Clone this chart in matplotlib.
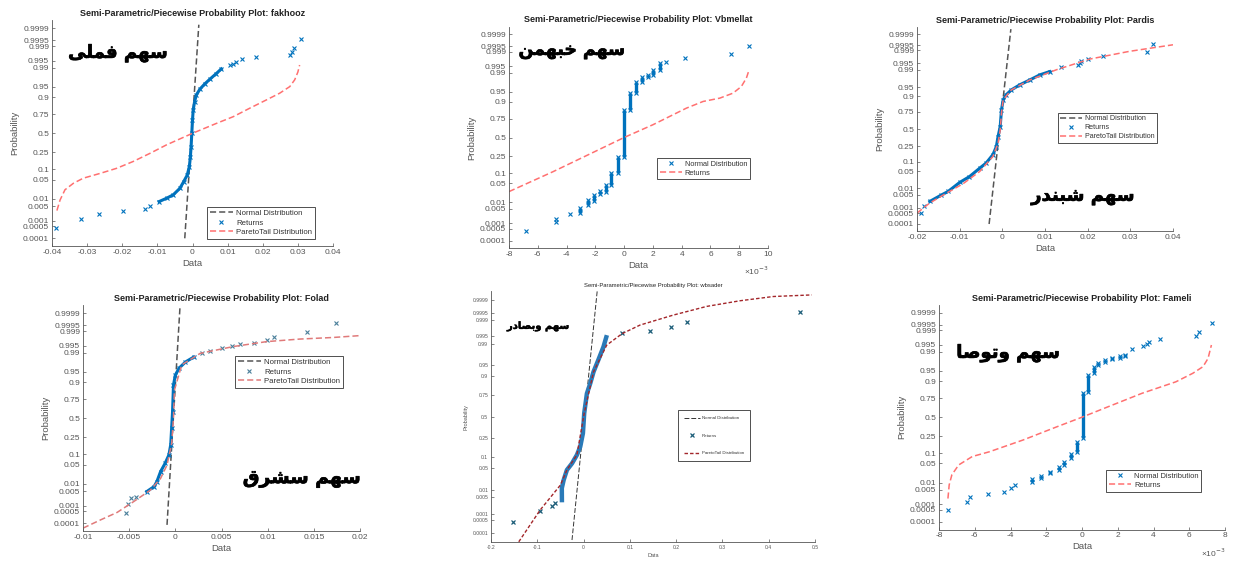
import numpy as np
import matplotlib
matplotlib.use('Agg')
import matplotlib.pyplot as plt
import matplotlib.patheffects as pe
from matplotlib.ticker import FuncFormatter

W, H = 1233, 562
plt.rcParams['font.family'] = ['Liberation Sans', 'DejaVu Sans']
plt.rcParams['axes.unicode_minus'] = False

BLUE = '#0072BD'
RED = '#FF7070'
GRAY = '#555555'

prob_ticks = [0.0001, 0.0005, 0.001, 0.005, 0.01, 0.05, 0.1, 0.25, 0.5,
              0.75, 0.9, 0.95, 0.99, 0.995, 0.999, 0.9995, 0.9999]
prob_labels = ['0.0001', '0.0005', '0.001', '0.005', '0.01', '0.05', '0.1', '0.25', '0.5',
               '0.75', '0.9', '0.95', '0.99', '0.995', '0.999', '0.9995', '0.9999']

# ---- fakhooz ----
fak_tail_x = [-0.0388, -0.0317, -0.0266, -0.0199, -0.0135, -0.0121,
              0.0106, 0.0116, 0.0125, 0.0142, 0.0180, 0.0279, 0.0284, 0.0289, 0.0308]
fak_tail_p = [0.00042, 0.0012, 0.0021, 0.0031, 0.0037, 0.0052,
              0.9922, 0.9931, 0.9945, 0.9956, 0.9964, 0.9972, 0.9981, 0.9988, 0.9996]
fak_body_x = [-0.0095, -0.0074, -0.0055, -0.0036, -0.0025, -0.0015, -0.0009, -0.0006, -0.0004,
              -0.0002, 0.0, 0.0002, 0.0006, 0.0011, 0.0021, 0.0035, 0.0049, 0.0066, 0.0082]
fak_body_p = [0.0078, 0.0107, 0.0146, 0.0256, 0.0436, 0.0694, 0.119, 0.203, 0.319,
              0.5, 0.681, 0.797, 0.869, 0.913, 0.941, 0.960, 0.972, 0.982, 0.9887]
fak_norm_x = [-0.0022, 0.0018]
fak_norm_p = [0.0001, 0.99994]
fak_par_x = [-0.0386, -0.0377, -0.0363, -0.0339, -0.0311, -0.0263, -0.0216, -0.0169, -0.0121,
             -0.0074, 0.0, 0.0068, 0.0116, 0.0163, 0.0210, 0.0248, 0.0277, 0.0291, 0.0300, 0.0305]
fak_par_p = [0.0031, 0.0091, 0.0228, 0.0384, 0.0559, 0.0778, 0.1075, 0.159, 0.239,
             0.341, 0.5, 0.637, 0.722, 0.813, 0.881, 0.922, 0.951, 0.971, 0.985, 0.9922]

# ---- Vbmellat ----
mel_tail_x = [-0.00679, -0.00470, -0.00470, -0.00378, 0.00293, 0.0042, 0.0074, 0.00867]
mel_tail_p = [0.0004, 0.0011, 0.0017, 0.0029, 0.9969, 0.9978, 0.99874, 0.99953]
mel_step_x = [-0.0031, -0.0025, -0.0021, -0.0017, -0.00124, -0.00089, -0.00042, 0.0,
              0.00044, 0.00086, 0.00127, 0.00166, 0.0020, 0.00247]
mel_step_lo = [0.0032, 0.0075, 0.0107, 0.0212, 0.0256, 0.0446, 0.0985, 0.245,
               0.841, 0.945, 0.978, 0.985, 0.988, 0.9927]
mel_step_hi = [0.0054, 0.0122, 0.0192, 0.028, 0.0446, 0.0985, 0.245, 0.841,
               0.945, 0.978, 0.986, 0.988, 0.9927, 0.9963]
mel_line_x = [-0.008, -0.00494, 0.0, 0.0020, 0.00433, 0.00549, 0.00665, 0.00757, 0.00815, 0.0085, 0.00869]
mel_line_p = [0.0256, 0.109, 0.5, 0.677, 0.855, 0.903, 0.922, 0.945, 0.967, 0.984, 0.9927]

# ---- Pardis ----
par_tail_x = [-0.0191, -0.0184, 0.0138, 0.0177, 0.0181, 0.0185, 0.0201, 0.0236, 0.0340, 0.0352]
par_tail_p = [0.0005, 0.00135, 0.9922, 0.9941, 0.9953, 0.9963, 0.997, 0.998, 0.99878, 0.99957]
par_body_x = [-0.0170, -0.0143, -0.0127, -0.0100, -0.0077, -0.0053, -0.0038, -0.0022, -0.0014,
              -0.0010, -0.0005, -0.0002, 0.0002, 0.0009, 0.0021, 0.0041, 0.0064, 0.0088, 0.0111]
par_body_p = [0.0023, 0.0049, 0.0073, 0.0183, 0.0314, 0.063, 0.0918, 0.159, 0.248,
              0.386, 0.540, 0.776, 0.875, 0.911, 0.938, 0.959, 0.973, 0.9834, 0.988]
par_norm_x = [-0.0031, 0.0020]
par_norm_p = [0.0001, 0.999956]
par_par_x = [-0.020, -0.017, -0.0131, -0.0092, -0.0053, -0.0022, -0.0010, -0.0005, -0.0002,
             0.0002, 0.0021, 0.0064, 0.0127, 0.0205, 0.0298, 0.040]
par_par_p = [0.0005, 0.0019, 0.006, 0.0162, 0.0485, 0.142, 0.291, 0.488, 0.736,
             0.875, 0.938, 0.973, 0.9901, 0.997, 0.99886, 0.99953]

# ---- Folad ----
fol_tail_x = [-0.0053, -0.0051, -0.0048, -0.0043, 0.0029, 0.0038, 0.0050, 0.0061, 0.0070,
              0.0085, 0.0099, 0.0107, 0.0143, 0.0174]
fol_tail_p = [0.00042, 0.00114, 0.0023, 0.0028, 0.9893, 0.9918, 0.9938, 0.9948, 0.9956,
              0.9963, 0.9972, 0.9981, 0.99893, 0.99961]
fol_body_x = [-0.0031, -0.0023, -0.0020, -0.0016, -0.0011, -0.0007, -0.0005, -0.0004, -0.0003,
              -0.0002, 0.0, 0.0004, 0.0011, 0.0020]
fol_body_p = [0.0047, 0.0078, 0.0125, 0.0294, 0.0559, 0.0968, 0.174, 0.363, 0.595,
              0.881, 0.937, 0.962, 0.977, 0.985]
fol_norm_x = [-0.0009, 0.0005]
fol_norm_p = [0.00008, 0.999956]
fol_par_x = [-0.010, -0.0081, -0.0063, -0.0045, -0.0027, -0.0016, -0.0009, -0.0004, -0.0002,
             -0.0001, 0.0007, 0.0027, 0.0063, 0.0099, 0.0135, 0.0171, 0.020]
fol_par_p = [0.00005, 0.00016, 0.00043, 0.0016, 0.0055, 0.0166, 0.049, 0.184, 0.5,
             0.841, 0.971, 0.9893, 0.9945, 0.9967, 0.9975, 0.9979, 0.9983]

# ---- wbsader ----
sad_tail_x = [-0.1525, -0.095, -0.068, -0.061, 0.083, 0.144, 0.188, 0.223, 0.468]
sad_tail_p = [0.0004, 0.0013, 0.0021, 0.0029, 0.9961, 0.9969, 0.9979, 0.99874, 0.99958]
sad_body_x = [-0.0468, -0.047, -0.043, -0.036, -0.025, -0.0144, -0.0072, -0.0014, 0.0014,
              0.0072, 0.0144, 0.0216, 0.032, 0.043, 0.049]
sad_body_p = [0.0039, 0.0113, 0.0217, 0.0446, 0.068, 0.111, 0.169, 0.298, 0.544,
              0.770, 0.855, 0.924, 0.965, 0.987, 0.9943]
sad_norm_x = [-0.025, 0.030]
sad_norm_p = [0.000042, 0.999978]
sad_par_x = [-0.140, -0.094, -0.050, -0.036, -0.0144, 0.0014, 0.0216, 0.050, 0.083, 0.122,
             0.194, 0.266, 0.338, 0.410, 0.493]
sad_par_p = [0.000033, 0.00144, 0.0146, 0.0446, 0.111, 0.544, 0.924, 0.9887, 0.9959, 0.99825,
             0.9994, 0.99978, 0.99989, 0.999936, 0.999948]

# ---- Fameli ----
fam_tail_x = [-0.00747, -0.00646, -0.00627, -0.00528, -0.00434, -0.00396, -0.00377,
              0.00278, 0.00344, 0.00363, 0.00376, 0.00439, 0.00638, 0.00653, 0.00729]
fam_tail_p = [0.00045, 0.0013, 0.0023, 0.0032, 0.0039, 0.0057, 0.008,
              0.9927, 0.9943, 0.9956, 0.9964, 0.9972, 0.9981, 0.9988, 0.99958]
fam_step_x = [-0.0028, -0.0023, -0.00177, -0.0013, -0.00098, -0.00064, -0.0003, 0.00005,
              0.00035, 0.00065, 0.00092, 0.00126, 0.0017, 0.0021, 0.0024]
fam_step_lo = [0.011, 0.0146, 0.0228, 0.030, 0.0446, 0.072, 0.109, 0.227,
               0.819, 0.941, 0.969, 0.976, 0.981, 0.983, 0.985]
fam_step_hi = [0.0139, 0.0188, 0.0262, 0.039, 0.057, 0.093, 0.192, 0.802,
               0.933, 0.964, 0.974, 0.979, 0.983, 0.985, 0.9864]
fam_line_x = [-0.0075, -0.00743, -0.00728, -0.0069, -0.00614, -0.00519, -0.00329, -0.0014, 0.0,
              0.00145, 0.00335, 0.00525, 0.0062, 0.00677, 0.00705, 0.00724]
fam_line_p = [0.0019, 0.008, 0.0202, 0.0446, 0.0808, 0.109, 0.209, 0.367, 0.5,
              0.644, 0.802, 0.896, 0.941, 0.964, 0.9817, 0.9949]


def ppf(p):
    # inverse standard normal cdf (Acklam)
    p = np.atleast_1d(np.asarray(p, dtype=float))
    a = [-3.969683028665376e+01, 2.209460984245205e+02, -2.759285104469687e+02,
         1.383577518672690e+02, -3.066479806614716e+01, 2.506628277459239e+00]
    b = [-5.447609879822406e+01, 1.615858368580409e+02, -1.556989798598866e+02,
         6.680131188771972e+01, -1.328068155288572e+01]
    c = [-7.784894002430293e-03, -3.223964580411365e-01, -2.400758277161838e+00,
         -2.549671010050161e+00, 4.374664141464968e+00, 2.938163982698783e+00]
    d = [7.784695709041462e-03, 3.224671290700398e-01, 2.445134137142996e+00,
         3.754408661907416e+00]
    z = np.empty_like(p)
    lo = p < 0.02425
    hi = p > 1 - 0.02425
    mid = ~(lo | hi)
    q = np.sqrt(-2 * np.log(p[lo]))
    z[lo] = (((((c[0]*q+c[1])*q+c[2])*q+c[3])*q+c[4])*q+c[5]) / ((((d[0]*q+d[1])*q+d[2])*q+d[3])*q+1)
    q = p[mid] - 0.5
    r = q * q
    z[mid] = (((((a[0]*r+a[1])*r+a[2])*r+a[3])*r+a[4])*r+a[5])*q / (((((b[0]*r+b[1])*r+b[2])*r+b[3])*r+b[4])*r+1)
    q = np.sqrt(-2 * np.log(1 - p[hi]))
    z[hi] = -(((((c[0]*q+c[1])*q+c[2])*q+c[3])*q+c[4])*q+c[5]) / ((((d[0]*q+d[1])*q+d[2])*q+d[3])*q+1)
    return z


fig = plt.figure(figsize=(W / 100, H / 100), dpi=100)
ZLIM = 4.0


def make_panel(left, right, y_hi, y_lo, xlim, xticks, title, scale=1.0, small=False):
    zt = ppf(0.9999)[0]
    k = (y_lo - y_hi) / (2 * zt)
    top = y_hi - (ZLIM - zt) * k
    bot = y_lo + (ZLIM - zt) * k
    ax = fig.add_axes([left / W, 1 - bot / H, (right - left) / W, (bot - top) / H])
    fs_tick = 3.6 if small else 6.0
    fs_lab = 4.0 if small else 6.8
    fs_title = 4.2 if small else 6.5
    ax.set_xlim(xlim)
    ax.set_ylim(-ZLIM, ZLIM)
    ax.set_xticks(xticks)
    ax.xaxis.set_major_formatter(FuncFormatter(lambda v, _: '%g' % round(v * scale, 8)))
    ax.set_yticks(ppf(prob_ticks))
    ax.set_yticklabels(prob_labels)
    ax.tick_params(direction='in', length=2.5, width=0.5, labelsize=fs_tick,
                   colors='#555555', pad=2)
    for s in ['top', 'right']:
        ax.spines[s].set_visible(False)
    for s in ['left', 'bottom']:
        ax.spines[s].set_color('#555555')
        ax.spines[s].set_linewidth(0.6)
    ax.set_xlabel('Data', fontsize=fs_lab, color='#555555', labelpad=2)
    ax.set_ylabel('Probability', fontsize=fs_lab, color='#555555', labelpad=3)
    ax.set_title(title, fontsize=fs_title, fontweight='normal' if small else 'bold',
                 color='#222222', pad=3)
    if scale != 1.0:
        ax.annotate('×10$^{-3}$', xy=(1, 0), xycoords='axes fraction', xytext=(-12, -27),
                    textcoords='offset pixels', fontsize=fs_tick, color='#555555', ha='center')
    return ax


def add_legend(ax, x0, y0, fs=5.6, small=False):
    kw = dict(loc='upper left', bbox_to_anchor=(x0 / W, 1 - y0 / H),
              bbox_transform=fig.transFigure, borderaxespad=0, fancybox=False,
              framealpha=1, edgecolor='#333333', handlelength=3.0, handletextpad=0.4,
              numpoints=1)
    if small:
        kw.update(fontsize=3.2, labelspacing=3.0, borderpad=1.4, handlelength=3.5)
    else:
        kw.update(fontsize=fs, labelspacing=0.25, borderpad=0.35)
    leg = ax.legend(**kw)
    leg.get_frame().set_linewidth(0.6)
    for t in leg.get_texts():
        t.set_color('#333333')


def arabic(x, y, s, size, stroke=0.5):
    fig.text(x / W, 1 - y / H, s, fontsize=size, fontweight='bold', family='DejaVu Sans',
             ha='center', va='center', color='black',
             path_effects=[pe.withStroke(linewidth=stroke, foreground='black')])


MS = 3.5
MEW = 0.8

# panel 1: fakhooz
ax = make_panel(52, 333, 28.3, 238.3, (-0.04, 0.04), np.arange(-0.04, 0.041, 0.01),
                'Semi-Parametric/Piecewise Probability Plot: fakhooz')
ax.plot(fak_norm_x, ppf(fak_norm_p), '--', color=GRAY, lw=1.1, dashes=(4, 2), label='Normal Distribution')
ax.plot(fak_tail_x, ppf(fak_tail_p), 'x', color=BLUE, ms=MS, mew=MEW, label='Returns')
ax.plot(fak_body_x, ppf(fak_body_p), '-x', color=BLUE, lw=2.2, ms=MS, mew=MEW)
ax.plot(fak_par_x, ppf(fak_par_p), '--', color=RED, lw=1.1, dashes=(4, 2), label='ParetoTail Distribution')
add_legend(ax, 207, 207, fs=5.6)
arabic(118, 53, '\ufef0\ufee0\ufee4\ufed3 \ufee2\ufeec\ufeb3', 13)

# panel 2: Vbmellat
ax = make_panel(509, 768, 34.3, 240.7, (-0.008, 0.010), np.arange(-0.008, 0.0101, 0.002),
                'Semi-Parametric/Piecewise Probability Plot: Vbmellat', scale=1e3)
ax.plot(mel_tail_x, ppf(mel_tail_p), 'x', color=BLUE, ms=MS, mew=MEW, label='Normal Distribution')
ax.vlines(mel_step_x, ppf(mel_step_lo), ppf(mel_step_hi), color=BLUE, lw=2.4)
ax.plot(mel_step_x + mel_step_x, np.concatenate([ppf(mel_step_lo), ppf(mel_step_hi)]), 'x',
        color=BLUE, ms=MS, mew=MEW)
ax.plot(mel_line_x, ppf(mel_line_p), '--', color=RED, lw=1.1, dashes=(4, 2), label='Returns')
add_legend(ax, 657, 158, fs=5.3)
arabic(572, 50, '\ufee6\ufee4\ufeec\ufe92\ufea7 \ufee2\ufeec\ufeb3', 12.5)

# panel 3: Pardis
ax = make_panel(917, 1173, 34.3, 224, (-0.02, 0.04), np.arange(-0.02, 0.041, 0.01),
                'Semi-Parametric/Piecewise Probability Plot: Pardis')
ax.plot(par_norm_x, ppf(par_norm_p), '--', color=GRAY, lw=1.1, dashes=(4, 2), label='Normal Distribution')
ax.plot(par_tail_x, ppf(par_tail_p), 'x', color=BLUE, ms=MS, mew=MEW, label='Returns')
ax.plot(par_body_x, ppf(par_body_p), '-x', color=BLUE, lw=2.2, ms=MS, mew=MEW)
ax.plot(par_par_x, ppf(par_par_p), '--', color=RED, lw=1.1, dashes=(4, 2), label='ParetoTail Distribution')
add_legend(ax, 1058, 113, fs=5.1)
arabic(1083, 196, '\ufead\ufeaa\ufee8\ufe92\ufeb7 \ufee2\ufeec\ufeb3', 13)

# panel 4: Folad
ax = make_panel(83, 360, 313.3, 523.3, (-0.01, 0.02), np.arange(-0.01, 0.0201, 0.005),
                'Semi-Parametric/Piecewise Probability Plot: Folad')
ax.plot(fol_norm_x, ppf(fol_norm_p), '--', color=GRAY, lw=1.1, dashes=(4, 2), label='Normal Distribution')
ax.plot(fol_tail_x, ppf(fol_tail_p), 'x', color='#4a7f9a', ms=MS, mew=MEW, label='Returns')
ax.plot(fol_body_x, ppf(fol_body_p), '-x', color=BLUE, lw=2.2, ms=MS, mew=MEW)
ax.plot(fol_par_x, ppf(fol_par_p), '--', color='#e07a7a', lw=1.1, dashes=(4, 2), label='ParetoTail Distribution')
add_legend(ax, 235, 356, fs=5.6)
arabic(302, 478, '\ufed5\ufeae\ufeb8\ufeb3 \ufee2\ufeec\ufeb3', 13.5)

# panel 5: wbsader
ax = make_panel(491, 815, 300, 533.3, (-0.2, 0.5), np.arange(-0.2, 0.51, 0.1),
                'Semi-Parametric/Piecewise Probability Plot: wbsader', small=True)
ax.plot(sad_norm_x, ppf(sad_norm_p), '--', color='#333333', lw=0.7, dashes=(5, 2), label='Normal Distribution')
ax.plot(sad_tail_x, ppf(sad_tail_p), 'x', color='#1c5d78', ms=3, mew=0.9, label='Returns')
ax.plot(sad_body_x, ppf(sad_body_p), '-', color='#2a7ab8', lw=3.2)
ax.plot(sad_par_x, ppf(sad_par_p), '--', color='#a3262a', lw=1.0, dashes=(2.5, 1.5), label='ParetoTail Distribution')
add_legend(ax, 678, 410, small=True)
arabic(538, 326, '\ufead\ufea9\ufe8e\ufebc\ufe91\ufeed \ufee2\ufeec\ufeb3', 7.2, stroke=0.3)

# panel 6: Fameli
ax = make_panel(939, 1225, 312.7, 521.7, (-0.008, 0.008), np.arange(-0.008, 0.0081, 0.002),
                'Semi-Parametric/Piecewise Probability Plot: Fameli', scale=1e3)
ax.plot(fam_tail_x, ppf(fam_tail_p), 'x', color=BLUE, ms=MS, mew=MEW, label='Normal Distribution')
ax.vlines(fam_step_x, ppf(fam_step_lo), ppf(fam_step_hi), color=BLUE, lw=2.4)
ax.plot(fam_step_x + fam_step_x, np.concatenate([ppf(fam_step_lo), ppf(fam_step_hi)]), 'x',
        color=BLUE, ms=MS, mew=MEW)
ax.plot(fam_line_x, ppf(fam_line_p), '--', color=RED, lw=1.1, dashes=(4, 2), label='Returns')
add_legend(ax, 1106, 470, fs=5.4)
arabic(1008, 353, '\ufe8e\ufebb\ufeee\ufe97\ufeed \ufee2\ufeec\ufeb3', 13)

fig.savefig('out.png', dpi=100)
